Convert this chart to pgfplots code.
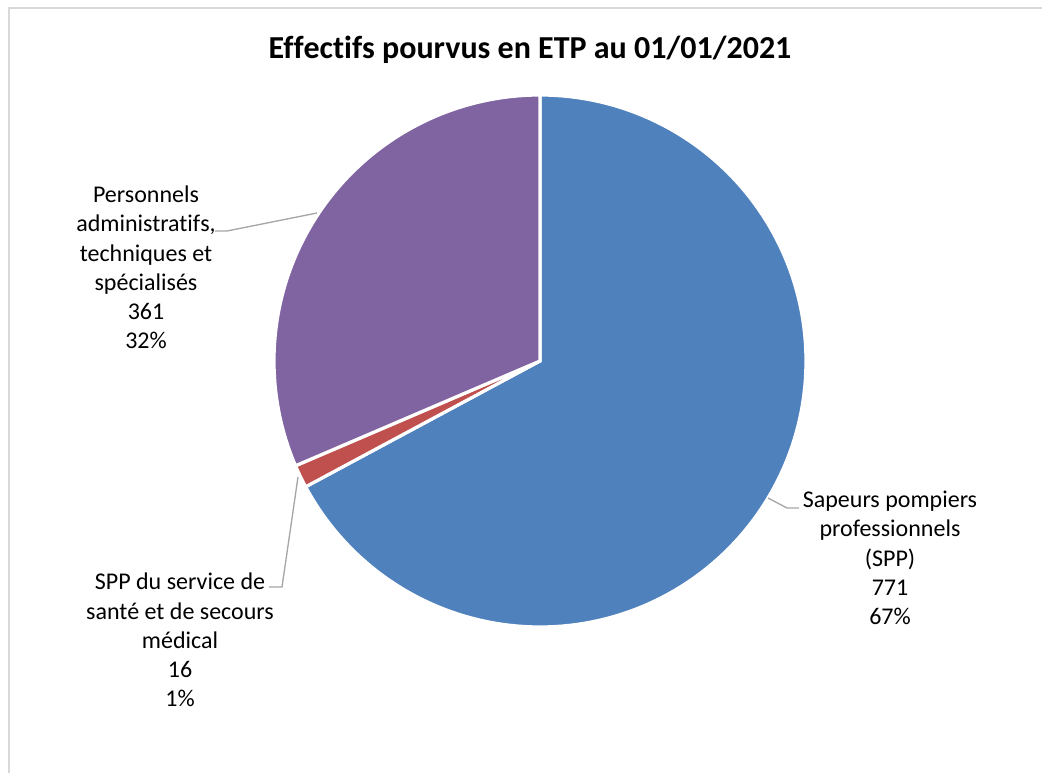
\documentclass[border=0pt]{standalone}
\usepackage{pgfplots}
\pgfplotsset{compat=1.18}
\usepackage{fontspec}
\setmainfont{Carlito}[RawFeature={-liga;-clig;-calt;-dlig}]
\definecolor{sBlue}{HTML}{4F81BD}
\definecolor{sRed}{HTML}{C0504D}
\definecolor{sPurple}{HTML}{8064A2}
\definecolor{leader}{HTML}{A6A6A6}
\definecolor{frame}{HTML}{D9D9D9}
\tikzset{lbl/.style={align=center, font=\fontsize{18}{21.9}\selectfont, inner sep=0pt}}
\newcommand\nl{\kern0pt}
% data (ETP)
\def\vA{771}% Sapeurs pompiers professionnels (SPP)
\def\vB{16}% SPP du service de sante et de secours medical
\def\vC{361}% Personnels administratifs, techniques et specialises
\pgfmathsetmacro\tot{\vA+\vB+\vC}
\pgfmathsetmacro\aA{90-360*(\vA/\tot)}
\pgfmathsetmacro\aB{\aA-360*(\vB/\tot)}
\pgfmathsetmacro\aC{\aB-360*(\vC/\tot)}
\begin{document}
\begin{tikzpicture}
\path[use as bounding box] (0,0) rectangle (781.5pt,579.75pt);
\begin{axis}[
  at={(0pt,0pt)}, anchor=south west,
  width=781.5pt, height=579.75pt, scale only axis,
  xmin=0, xmax=1042, ymin=0, ymax=773,
  hide axis, clip=false,
]
% frame
\draw[frame, line width=1.5pt] (axis cs:8.5,0) -- (axis cs:8.5,764.5) -- (axis cs:1042,764.5);
% slices
\addplot[fill=sBlue, draw=white, line width=2.4pt, domain=\aA:90, samples=150, variable=\t]
  ({540+266*cos(\t)}, {412+266*sin(\t)}) -- (axis cs:540,412) -- cycle;
\addplot[fill=sRed, draw=white, line width=2.4pt, domain=\aB:\aA, samples=10, variable=\t]
  ({540+266*cos(\t)}, {412+266*sin(\t)}) -- (axis cs:540,412) -- cycle;
\addplot[fill=sPurple, draw=white, line width=2.4pt, domain=\aC:\aB, samples=100, variable=\t]
  ({540+266*cos(\t)}, {412+266*sin(\t)}) -- (axis cs:540,412) -- cycle;
% leader lines
\draw[leader, line width=1pt] (axis cs:215,542) -- (axis cs:227,542) -- (axis cs:317,560);
\draw[leader, line width=1pt] (axis cs:269,186) -- (axis cs:282,186) -- (axis cs:298,296);
\draw[leader, line width=1pt] (axis cs:799,265) -- (axis cs:787,265) -- (axis cs:768,275);
% labels
\node[lbl] at (axis cs:146,505.5) {Personnels\\administrat\nl if\nl s,\\techniques et\\spécialisés\\361\\32\%};
\node[lbl] at (axis cs:180,133) {SPP du service de\\santé et de secours\\médical\\16\\1\%};
\node[lbl] at (axis cs:890,215) {Sapeurs pompiers\\professionnels\\(SPP)\\771\\67\%};
% title
\node[font=\fontsize{24}{28}\selectfont\bfseries, inner sep=0pt] at (axis cs:530,723) {Ef\nl f\nl ect\nl if\nl s pourvus en ETP au 01/01/2021};
\end{axis}
\end{tikzpicture}
\end{document}
